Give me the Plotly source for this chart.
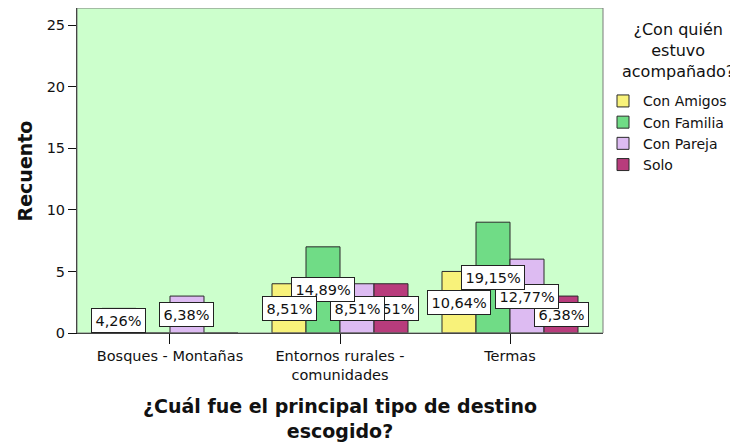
import plotly.graph_objects as go

categories = ["Bosques - Montañas", "Entornos rurales -<br>comunidades", "Termas"]
series_names = ["Con Amigos", "Con Familia", "Con Pareja", "Solo"]
con_amigos = [2, 4, 5]
con_familia = [0, 7, 9]
con_pareja = [3, 4, 6]
solo = [0, 4, 3]
y_ticks = [0, 5, 10, 15, 20, 25]
legend_title = "¿Con quién<br>estuvo<br>acompañado?"
x_title = "¿Cuál fue el principal tipo de destino<br>escogido?"
y_title = "Recuento"

series_values = [con_amigos, con_familia, con_pareja, solo]
colors = ["#F8F27A", "#70DC86", "#DDBBF2", "#B83C7C"]

FONT = "DejaVu Sans, Verdana, sans-serif"
total = sum(sum(v) for v in series_values)
bar_w = 0.2
n = len(series_names)

fig = go.Figure()
xs_all = []
for i, (name, vals, col) in enumerate(zip(series_names, series_values, colors)):
    xs = [c + (i - (n - 1) / 2) * bar_w for c in range(len(categories))]
    xs_all.append(xs)
    fig.add_trace(go.Bar(
        x=xs, y=vals, width=bar_w, name=name,
        marker=dict(color=col, line=dict(color="#2a2a2a", width=1)),
        hoverinfo="y+name",
    ))

# percentage labels, earlier series drawn on top
annotations = []
for i in reversed(range(n)):
    for c, v in enumerate(series_values[i]):
        if v <= 0:
            continue
        pct = f"{100 * v / total:.2f}%".replace(".", ",")
        annotations.append(dict(
            x=xs_all[i][c], y=v / 2, xref="x", yref="y", text=pct,
            showarrow=False, bgcolor="white", bordercolor="#222222",
            borderwidth=1, borderpad=3.5,
            font=dict(family=FONT, size=14.5, color="#111111"),
        ))

annotations.append(dict(
    x=1.142, y=0.968, xref="paper", yref="paper", xanchor="center", yanchor="top",
    text=legend_title, showarrow=False, align="center",
    font=dict(family=FONT, size=16, color="#111111"),
))
annotations.append(dict(
    x=0.5, y=-0.264, xref="paper", yref="paper", xanchor="center", yanchor="middle",
    text=x_title, showarrow=False, align="center",
    font=dict(family=FONT, size=19, color="#111111", weight="bold"),
))
annotations.append(dict(
    x=-0.099, y=0.5, xref="paper", yref="paper", xanchor="center", yanchor="middle",
    text=y_title, showarrow=False, textangle=-90,
    font=dict(family=FONT, size=19, color="#111111", weight="bold"),
))

# page body adds an 8px offset, so the figure is 8px smaller on each side
fig.update_layout(
    width=730, height=436,
    margin=dict(l=69, r=135, t=0, b=111, autoexpand=False),
    paper_bgcolor="white",
    plot_bgcolor="#CCFFCC",
    barmode="overlay",
    font=dict(family=FONT, size=14.5, color="#111111"),
    showlegend=True,
    legend=dict(
        x=1.0, xanchor="left", y=0.762, yanchor="top",
        font=dict(family=FONT, size=14, color="#111111"),
        bgcolor="rgba(0,0,0,0)", tracegroupgap=0, itemwidth=30,
        traceorder="normal",
    ),
    annotations=annotations,
    xaxis=dict(
        range=[-0.547, 2.547], tickvals=list(range(len(categories))), ticktext=categories,
        showgrid=False, zeroline=False, showline=True, linecolor="#111111", linewidth=1,
        ticks="outside", ticklen=10, tickcolor="#111111",
        tickfont=dict(family=FONT, size=14.5, color="#111111"),
        automargin=False, fixedrange=True,
    ),
    yaxis=dict(
        range=[0, 26.4], tickvals=y_ticks,
        showgrid=False, zeroline=False, showline=True, linecolor="#111111", linewidth=1,
        ticks="outside", ticklen=8, tickcolor="#111111",
        tickfont=dict(family=FONT, size=14.5, color="#111111"),
        automargin=False, fixedrange=True,
    ),
    shapes=[dict(type="rect", xref="paper", yref="paper", x0=0, y0=0, x1=1, y1=1,
                 line=dict(color="#7a7a7a", width=1), layer="above")],
)

fig.write_html("out.html")
